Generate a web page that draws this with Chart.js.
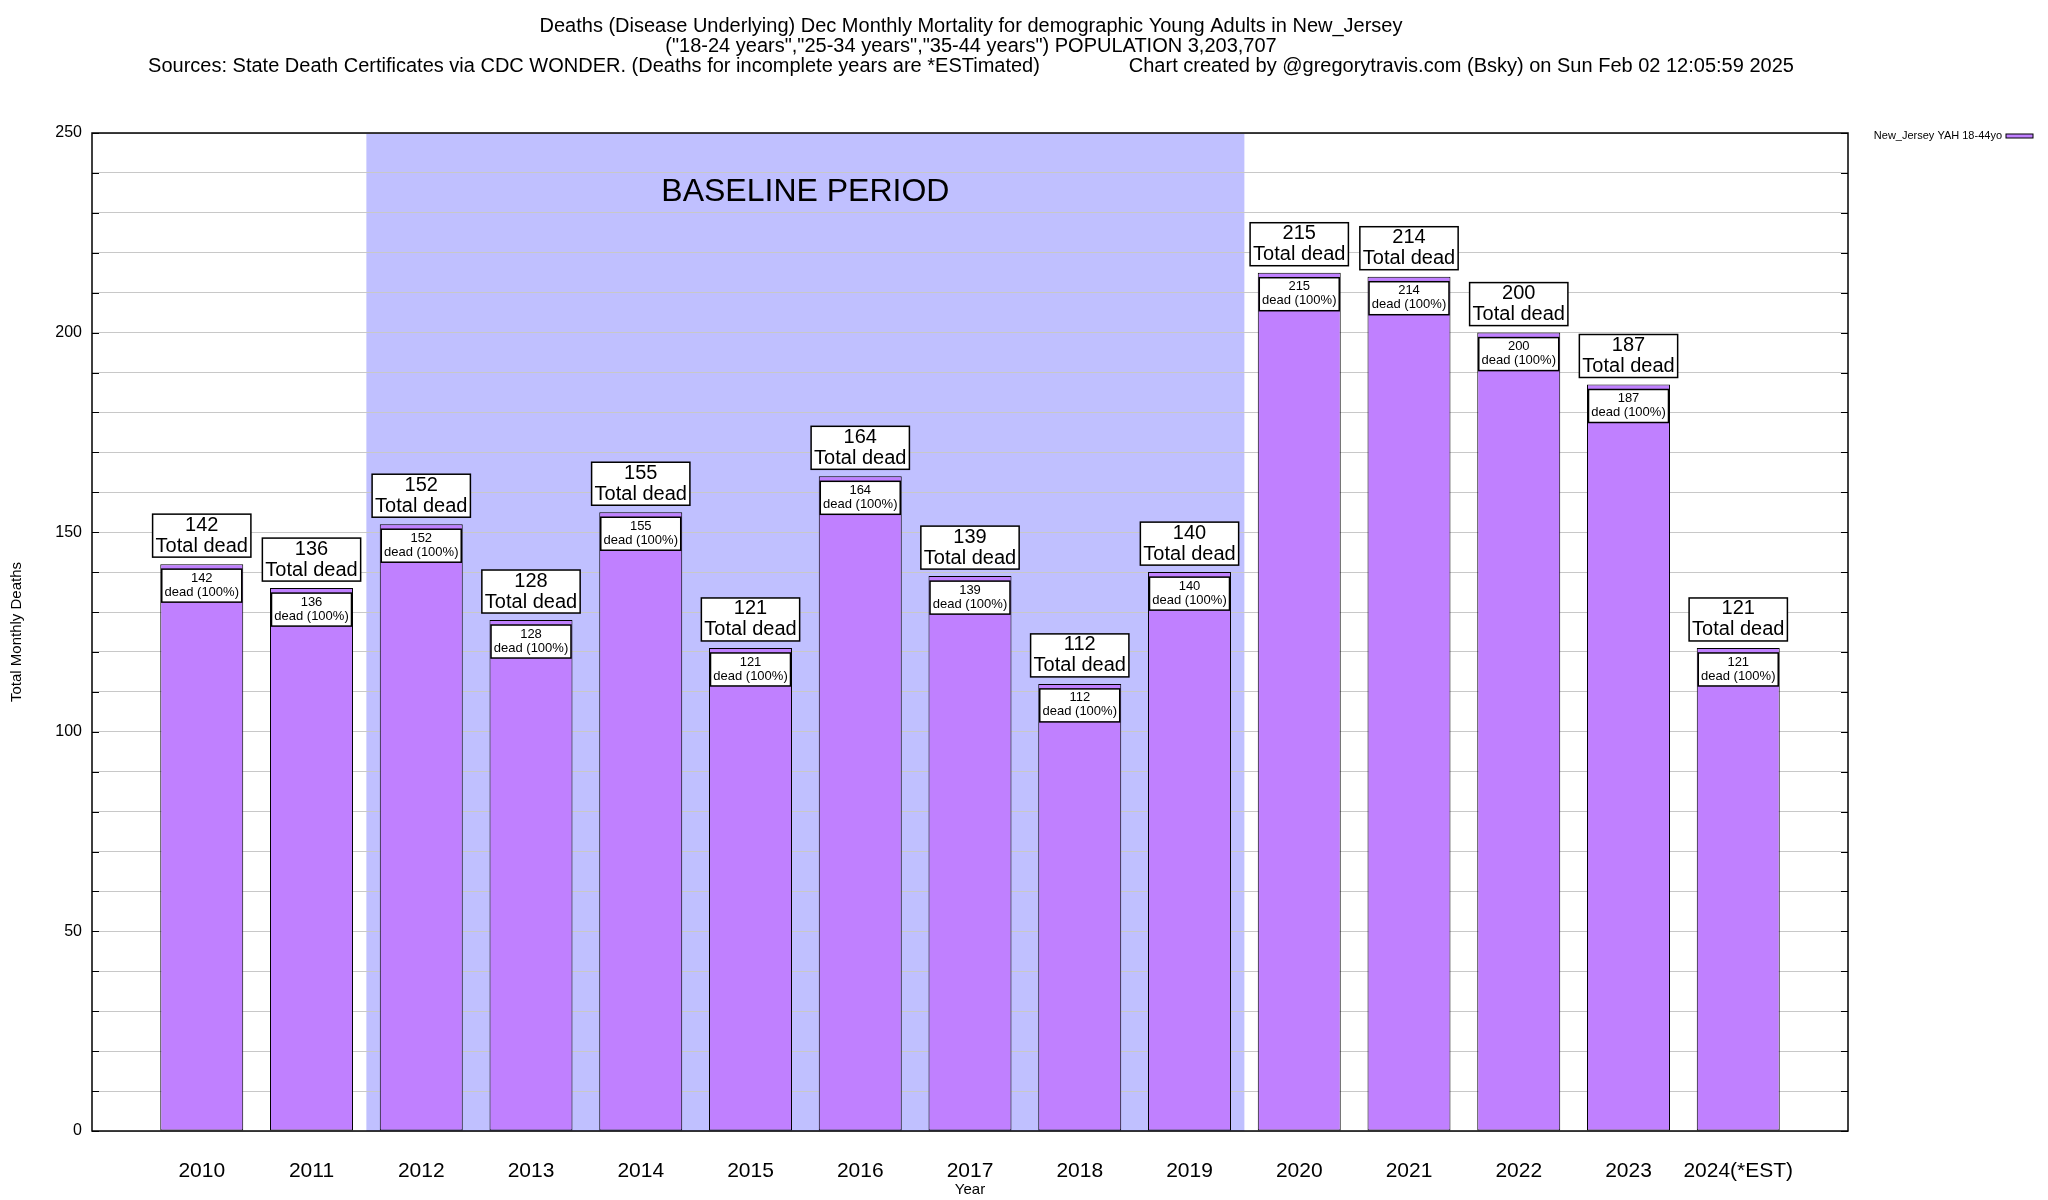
<!DOCTYPE html>
<html>
<head>
<meta charset="utf-8">
<script src="https://cdn.jsdelivr.net/npm/chart.js@4/dist/chart.umd.min.js"></script>
<style>
  html, body { margin: 0; padding: 0; background: #fff; }
  #wrap { width: 2048px; height: 1200px; }
</style>
</head>
<body>
<div id="wrap"><canvas id="chart"></canvas></div>
<script>
// data
const years = ["2010", "2011", "2012", "2013", "2014", "2015", "2016", "2017", "2018", "2019", "2020", "2021", "2022", "2023", "2024(*EST)"];
const deaths = [142, 136, 152, 128, 155, 121, 164, 139, 112, 140, 215, 214, 200, 187, 121];
const baselineYears = ["2012", "2019"];
const yTickLabels = [0, 50, 100, 150, 200, 250];
const titleLines = [
    "Deaths (Disease Underlying) Dec Monthly Mortality for demographic Young Adults in New_Jersey",
    "(\"18-24 years\",\"25-34 years\",\"35-44 years\") POPULATION 3,203,707",
    "Sources: State Death Certificates via CDC WONDER. (Deaths for incomplete years are *ESTimated)                Chart created by @gregorytravis.com (Bsky) on Sun Feb 02 12:05:59 2025"
];
const seriesName = "New_Jersey YAH 18-44yo";

const FONT = "'Liberation Sans', Arial, Helvetica, sans-serif";
const BAR = "#c080ff";
const SHADE = "#c0c0ff";

const decorations = {
    id: "decorations",
    beforeDraw(chart) {
        const { ctx, chartArea: a, scales: { x, y } } = chart;
        ctx.save();
        ctx.fillStyle = "#fff";
        ctx.fillRect(0, 0, chart.width, chart.height);
        // baseline shading
        const x0 = x.getPixelForValue(years.indexOf(baselineYears[0]) - 0.5);
        const x1 = x.getPixelForValue(years.indexOf(baselineYears[1]) + 0.5);
        ctx.fillStyle = SHADE;
        ctx.fillRect(x0, a.top, x1 - x0, a.bottom - a.top);
        ctx.fillStyle = "#000";
        ctx.font = "32px " + FONT;
        ctx.textAlign = "center";
        ctx.textBaseline = "middle";
        ctx.fillText("BASELINE PERIOD", (x0 + x1) / 2, y.getPixelForValue(235.3));
        ctx.restore();
    },
    afterDatasetsDraw(chart) {
        const { ctx, chartArea: a, scales: { y } } = chart;
        const meta = chart.getDatasetMeta(0);
        ctx.save();
        ctx.textAlign = "center";
        ctx.textBaseline = "middle";
        ctx.strokeStyle = "#000";
        ctx.lineWidth = 1.5;
        meta.data.forEach((el, i) => {
            const v = deaths[i];
            const top = el.y;
            // inner label box
            const bl = el.x - el.width / 2 + 1.5, bw = el.width - 3;
            ctx.fillStyle = "#fff";
            ctx.fillRect(bl, top + 5, bw, 33);
            ctx.strokeRect(bl, top + 5, bw, 33);
            ctx.fillStyle = "#000";
            ctx.font = "13px " + FONT;
            ctx.fillText(String(v), el.x, top + 14);
            ctx.fillText("dead (100%)", el.x, top + 28);
            // outer label box above the bar
            ctx.font = "20px " + FONT;
            const w = Math.max(ctx.measureText("Total dead").width, ctx.measureText(String(v)).width) + 6;
            const bottom = top - 7;
            ctx.fillStyle = "#fff";
            ctx.fillRect(el.x - w / 2, bottom - 43, w, 43);
            ctx.strokeRect(el.x - w / 2, bottom - 43, w, 43);
            ctx.fillStyle = "#000";
            ctx.fillText(String(v), el.x, bottom - 32);
            ctx.fillText("Total dead", el.x, bottom - 11);
        });
        // inward tick marks, left and right
        ctx.lineWidth = 1;
        y.ticks.forEach(t => {
            const py = Math.round(y.getPixelForValue(t.value)) + 0.5;
            ctx.beginPath();
            ctx.moveTo(a.left, py); ctx.lineTo(a.left + 7, py);
            ctx.moveTo(a.right, py); ctx.lineTo(a.right - 7, py);
            ctx.stroke();
        });
        // frame
        ctx.lineWidth = 1.5;
        ctx.strokeRect(a.left, a.top, a.right - a.left, a.bottom - a.top);
        ctx.restore();
    },
    afterDraw(chart) {
        const { ctx, chartArea: a } = chart;
        ctx.save();
        ctx.fillStyle = "#000";
        ctx.textBaseline = "middle";
        ctx.textAlign = "center";
        ctx.font = "20px " + FONT;
        const cx = (a.left + a.right) / 2 + 1;
        titleLines.forEach((t, i) => ctx.fillText(t, cx, 26 + i * 20));
        // legend
        ctx.font = "11px " + FONT;
        ctx.textAlign = "right";
        ctx.fillText(seriesName, 2002, 136);
        ctx.fillStyle = BAR;
        ctx.fillRect(2006, 134, 27, 4);
        ctx.strokeStyle = "#000";
        ctx.lineWidth = 1;
        ctx.strokeRect(2006, 134, 27, 4);
        ctx.restore();
    }
};

new Chart(document.getElementById("chart"), {
    type: "bar",
    data: {
        datasets: [{
            label: seriesName,
            data: deaths.map((v, i) => ({ x: i, y: v })),
            backgroundColor: BAR,
            borderColor: "#000",
            borderWidth: 1,
            borderSkipped: false,
            barPercentage: 0.756,
            categoryPercentage: 1
        }]
    },
    options: {
        responsive: true,
        maintainAspectRatio: false,
        animation: false,
        devicePixelRatio: 1,
        layout: { padding: { left: 0, right: 200, top: 133, bottom: 0 } },
        plugins: { legend: { display: false }, title: { display: false }, tooltip: { enabled: false } },
        scales: {
            x: {
                type: "linear",
                offset: false,
                min: -1, max: 15,
                grid: { display: false, drawTicks: false },
                border: { display: false },
                ticks: {
                    stepSize: 1,
                    padding: 28,
                    maxRotation: 0,
                    minRotation: 0,
                    autoSkip: false,
                    color: "#000",
                    font: { family: FONT, size: 21 },
                    callback: v => years[v] ?? ""
                },
                title: { display: true, text: "Year", color: "#000", font: { family: FONT, size: 15 }, padding: { top: 0, bottom: 1 } },
                afterFit: s => { s.height = 69; }
            },
            y: {
                min: 0, max: 250,
                grid: { color: "#c8c8c8", lineWidth: 1, drawTicks: false },
                border: { display: false },
                ticks: {
                    stepSize: 10,
                    padding: 10,
                    color: "#000",
                    font: { family: FONT, size: 16 },
                    callback: v => yTickLabels.includes(v) ? String(v) : ""
                },
                title: { display: true, text: "Total Monthly Deaths", color: "#000", font: { family: FONT, size: 15 }, padding: { top: 8, bottom: 0 } },
                afterFit: s => { s.width = 92; }
            }
        }
    },
    plugins: [decorations]
});
</script>
</body>
</html>
